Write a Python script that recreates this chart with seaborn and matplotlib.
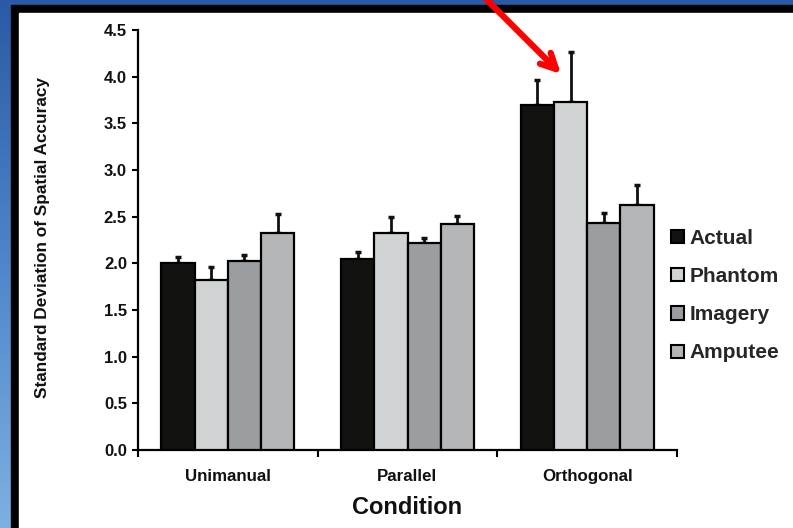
import numpy as np
import pandas as pd
import seaborn as sns
import matplotlib.pyplot as plt
from matplotlib.patches import Rectangle, Patch
from matplotlib.ticker import FormatStrFormatter

conditions = ["Unimanual", "Parallel", "Orthogonal"]
groups = ["Actual", "Phantom", "Imagery", "Amputee"]

actual = [2.00, 2.05, 3.70]
phantom = [1.82, 2.33, 3.73]
imagery = [2.02, 2.22, 2.43]
amputee = [2.33, 2.42, 2.62]

actual_err = [0.07, 0.07, 0.26]
phantom_err = [0.14, 0.17, 0.53]
imagery_err = [0.07, 0.05, 0.11]
amputee_err = [0.20, 0.09, 0.22]

colors = ["#121210", "#cfd3d4", "#9a9ea2", "#b3b6b8"]

values = [actual, phantom, imagery, amputee]
errors = [actual_err, phantom_err, imagery_err, amputee_err]
df = pd.DataFrame({
    "condition": [c for _ in groups for c in conditions],
    "group": [g for g in groups for _ in conditions],
    "value": [v for vals in values for v in vals],
})

sns.set_style("white")
plt.rcParams["font.family"] = ["Liberation Sans", "DejaVu Sans"]
plt.rcParams["font.weight"] = "bold"

fig = plt.figure(figsize=(7.93, 5.28), dpi=100)

# slide background: blue gradient with black-framed white panel
bg = fig.add_axes([0, 0, 1, 1], zorder=-1)
grad = np.linspace(0, 1, 256).reshape(-1, 1)
bg.imshow(grad, aspect="auto", extent=[0, 1, 0, 1], origin="upper",
          cmap=sns.blend_palette(["#2a5aa6", "#4f86c8", "#7db1e2"], as_cmap=True))
bg.add_patch(Rectangle((11 / 793, 0), 1, 523 / 528, color="black"))
bg.add_patch(Rectangle((19 / 793, 0), 1, 515 / 528, color="white"))
bg.set_xlim(0, 1)
bg.set_ylim(0, 1)
bg.axis("off")

ax = fig.add_axes([138 / 793, 1 - 450 / 528, (677 - 138) / 793, 420 / 528])
ax.set_facecolor("none")

sns.barplot(data=df, x="condition", y="value", hue="group", order=conditions,
            hue_order=groups, palette=colors, width=0.74, edgecolor="black",
            linewidth=1.6, errorbar=None, legend=False, ax=ax, zorder=3)

for cont, err in zip(ax.containers, errors):
    xs = [b.get_x() + b.get_width() / 2 for b in cont]
    hs = [b.get_height() for b in cont]
    ax.errorbar(xs, hs, yerr=[np.zeros(len(err)), err], fmt="none",
                ecolor="#111111", elinewidth=2, capsize=2.2, capthick=2.5, zorder=2)

ax.set_xlim(-0.5, 2.5)
ax.set_ylim(0, 4.5)
ax.set_yticks(np.arange(0, 4.51, 0.5))
ax.yaxis.set_major_formatter(FormatStrFormatter("%.1f"))
ax.set_xticks([-0.5, 0.5, 1.5, 2.5], minor=True)
ax.tick_params(axis="x", which="major", length=0, pad=13.5, labelsize=12.2)
ax.tick_params(axis="x", which="minor", length=5, width=1.5, direction="out",
               color="black", bottom=True)
ax.tick_params(axis="y", length=4, width=1.5, direction="out", color="black",
               left=True, labelsize=12, pad=4)
for lab in ax.get_xticklabels() + ax.get_yticklabels():
    lab.set_fontweight("bold")
    lab.set_color("#111111")

for s in ["top", "right"]:
    ax.spines[s].set_visible(False)
for s in ["left", "bottom"]:
    ax.spines[s].set_color("black")
    ax.spines[s].set_linewidth(1.6)

ax.set_xlabel("Condition", fontsize=17, fontweight="bold", color="#111111", labelpad=9)
ax.set_ylabel("Standard Deviation of Spatial Accuracy", fontsize=12.4,
              fontweight="bold", color="#111111")
ax.yaxis.set_label_coords(-0.163, 0.507)

handles = [Patch(facecolor=c, edgecolor="black", linewidth=1.5) for c in colors]
fig.legend(handles, groups, loc="upper left", bbox_to_anchor=(671 / 793, 1 - 229 / 528),
           frameon=False, handlelength=0.6, handleheight=0.6,
           handletextpad=0.3, labelspacing=0.92, borderpad=0, borderaxespad=0,
           prop={"weight": "bold", "size": 15})

# red arrow pointing at the Phantom / Orthogonal bar
ax.annotate("", xy=(563, 528 - 76), xycoords="figure pixels",
            xytext=(483, 532), textcoords="figure pixels",
            arrowprops=dict(arrowstyle="->, head_length=1.1, head_width=0.55",
                            color="#ff0000", lw=4.5))

fig.savefig("out.png", dpi=100)
